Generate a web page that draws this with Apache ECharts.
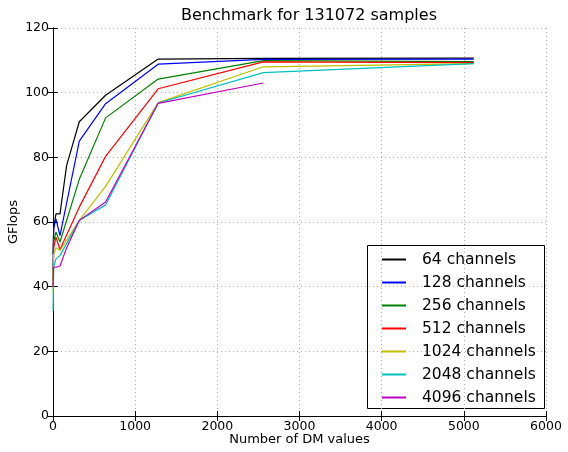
<!DOCTYPE html>
<html>
<head>
<meta charset="utf-8">
<script src="https://cdn.jsdelivr.net/npm/echarts@6/dist/echarts.min.js"></script>
<style>
  html, body { margin: 0; padding: 0; background: #fff; }
  #chart { width: 568px; height: 452px; }
</style>
</head>
<body>
<div id="chart"></div>
<script>
// DM values on the x axis (shared by all series)
const dmValues = [1, 8, 36, 85, 166, 320, 640, 1280, 2560, 5120];

// GFlops, null = no point there
const ch64   = [50,   58,   62.5, 62.5, 77.5, 91,   99.2, 110.4, 110.6, 110.7];
const ch128  = [45,   58,   61,   55.8, null, 85,   96.6, 108.8, 110.3, 110.4];
const ch256  = [42,   54,   56.9, 53.8, null, 73.2, 92.2, 104.2, 109.9, 109.6];
const ch512  = [40,   52,   55.3, 51.5, null, 64.6, 80.3, 101.2, 109.5, 109.3];
const ch1024 = [38,   50,   52,   51.2, null, 60.5, 71,   96.9,  108,   109];
const ch2048 = [32.5, 46,   48.6, 49.6, null, 60.5, 65.3, 96.8,  106.2, 109];
const ch4096 = [40,   46,   46,   46.4, 52,   60.5, 66.2, 96.7,  103,   null];

const seriesNames = ['64 channels', '128 channels', '256 channels', '512 channels',
  '1024 channels', '2048 channels', '4096 channels'];
const seriesValues = [ch64, ch128, ch256, ch512, ch1024, ch2048, ch4096];
const colors = ['#000000', '#0000ff', '#008000', '#ff0000', '#bfbf00', '#00bfbf', '#bf00bf'];

const xTicks = [0, 1000, 2000, 3000, 4000, 5000, 6000];
const yTicks = [0, 20, 40, 60, 80, 100, 120];

let myChart = echarts.init(document.getElementById('chart'));

const font = 'DejaVu Sans';
const gridLine = { show: true, lineStyle: { color: '#b0b0b0', type: [1, 3], width: 1 } };

myChart.setOption({
  animation: false,
  title: {
    text: 'Benchmark for 131072 samples',
    left: 304, top: 3, textAlign: 'center',
    textStyle: { fontFamily: font, fontSize: 16, fontWeight: 'normal', color: '#000' }
  },
  grid: { left: 53, right: 22, top: 28, bottom: 36, outerBoundsMode: 'none', containLabel: false },
  legend: {
    orient: 'vertical',
    left: 368, top: 251,
    itemWidth: 24, itemHeight: 2, itemGap: 6,
    icon: 'rect',
    padding: [0, 0, 0, 14],
    data: seriesNames,
    textStyle: { fontFamily: font, fontSize: 15.5, color: '#000', lineHeight: 17, padding: [0, 0, 0, 11] }
  },
  graphic: [{
    type: 'rect', left: 367, top: 245, z: 0,
    shape: { width: 177, height: 163 },
    style: { fill: '#fff', stroke: '#000', lineWidth: 1 }
  }],
  xAxis: [{
    type: 'value', min: xTicks[0], max: xTicks[xTicks.length - 1], interval: 1000,
    name: 'Number of DM values', nameLocation: 'middle', nameGap: 17, nameMoveOverlap: false,
    nameTextStyle: { fontFamily: font, fontSize: 13, color: '#000' },
    axisLine: { show: true, onZero: false, lineStyle: { color: '#000' } },
    axisTick: { show: true, inside: true, length: 5, lineStyle: { color: '#000' } },
    axisLabel: { fontFamily: font, fontSize: 12.5, color: '#000', margin: 4, formatter: v => String(v) },
    splitLine: gridLine
  }, {
    type: 'value', position: 'top', min: xTicks[0], max: xTicks[xTicks.length - 1], interval: 1000,
    axisLine: { show: true, lineStyle: { color: '#000' } },
    axisTick: { show: true, inside: true, length: 5, lineStyle: { color: '#000' } },
    axisLabel: { show: false }, splitLine: { show: false }
  }],
  yAxis: [{
    type: 'value', min: yTicks[0], max: yTicks[yTicks.length - 1], interval: 20,
    name: 'GFlops', nameLocation: 'middle', nameGap: 33, nameMoveOverlap: false,
    nameTextStyle: { fontFamily: font, fontSize: 13, color: '#000' },
    axisLine: { show: true, onZero: false, lineStyle: { color: '#000' } },
    axisTick: { show: true, inside: true, length: 5, lineStyle: { color: '#000' } },
    axisLabel: { fontFamily: font, fontSize: 12.5, color: '#000', margin: 4 },
    splitLine: gridLine
  }, {
    type: 'value', position: 'right', min: yTicks[0], max: yTicks[yTicks.length - 1], interval: 20,
    axisLine: { show: true, lineStyle: { color: '#000' } },
    axisTick: { show: true, inside: true, length: 5, lineStyle: { color: '#000' } },
    axisLabel: { show: false }, splitLine: { show: false }
  }],
  series: seriesNames.map((name, i) => ({
    name: name,
    type: 'line',
    showSymbol: false,
    symbol: 'none',
    connectNulls: true,
    z: 3,
    color: colors[i],
    lineStyle: { width: 1.2, color: colors[i] },
    data: dmValues.map((x, j) => [x, seriesValues[i][j]])
  }))
});
</script>
</body>
</html>
